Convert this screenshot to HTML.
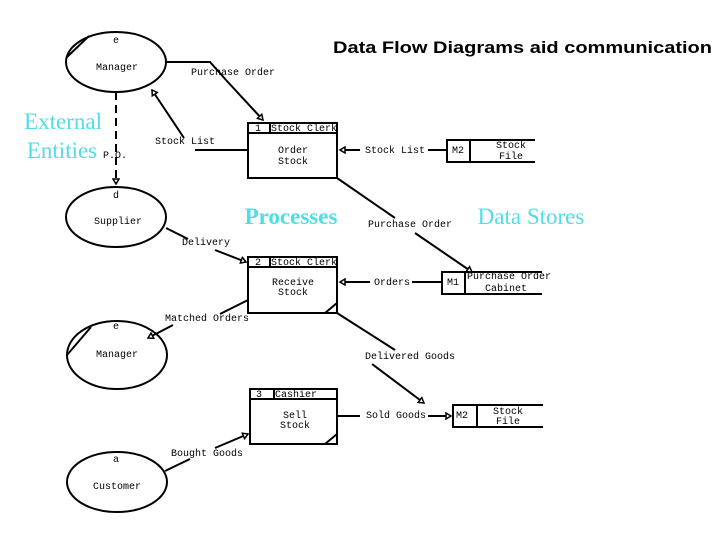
<!DOCTYPE html>
<html><head><style>
body{margin:0;background:#fff;}
svg{display:block;}
.m{font-family:"Liberation Mono",monospace;font-size:10px;fill:#000;}
.c{font-family:"Liberation Serif",serif;fill:#4fdde6;font-size:23px;}
</style></head><body>
<svg width="720" height="540" viewBox="0 0 720 540" xmlns="http://www.w3.org/2000/svg">
<defs>
<marker id="a" markerWidth="8" markerHeight="8" refX="6" refY="4" orient="auto" markerUnits="userSpaceOnUse">
<path d="M1,1 L6,4 L1,7 Z" fill="#fff" stroke="#000" stroke-width="1.5"/>
</marker>
</defs>
<g fill="none" stroke="#000" stroke-width="2">
<ellipse cx="116" cy="62" rx="50" ry="30"/>
<line x1="67" y1="57" x2="89" y2="36"/>
<ellipse cx="116" cy="217" rx="50" ry="30"/>
<ellipse cx="117" cy="355" rx="50" ry="34"/>
<line x1="67" y1="355" x2="91" y2="327"/>
<ellipse cx="117" cy="482" rx="50" ry="30"/>
<rect x="248" y="123" width="89" height="55"/><line x1="248" y1="133" x2="337" y2="133"/><line x1="270" y1="123" x2="270" y2="133"/>
<rect x="248" y="257" width="89" height="56"/><line x1="248" y1="267" x2="337" y2="267"/><line x1="270" y1="257" x2="270" y2="267"/>
<line x1="325" y1="313" x2="337" y2="303"/>
<rect x="250" y="389" width="87" height="55"/><line x1="250" y1="399" x2="337" y2="399"/><line x1="274" y1="389" x2="274" y2="399"/>
<line x1="325" y1="444" x2="337" y2="434"/>
<path d="M535,140 H447 V162 H535 M470,140 V162"/>
<path d="M542,272 H442 V294 H542 M465,272 V294"/>
<path d="M543,405 H453 V427 H543 M477,405 V427"/>
<path d="M166,62 H210 L226,80"/><line x1="226" y1="80" x2="263" y2="120" marker-end="url(#a)"/>
<line x1="248" y1="150" x2="195" y2="150"/>
<line x1="184" y1="138" x2="152" y2="90" marker-end="url(#a)"/>
<line x1="116" y1="92" x2="116" y2="184" stroke-dasharray="8,5" marker-end="url(#a)"/>
<line x1="447" y1="150" x2="428" y2="150"/><line x1="360" y1="150" x2="340" y2="150" marker-end="url(#a)"/>
<line x1="337" y1="178" x2="395" y2="218"/><line x1="415" y1="233" x2="472" y2="272" marker-end="url(#a)"/>
<line x1="166" y1="228" x2="188" y2="239"/><line x1="215" y1="250" x2="246" y2="262" marker-end="url(#a)"/>
<line x1="442" y1="282" x2="412" y2="282"/><line x1="370" y1="282" x2="340" y2="282" marker-end="url(#a)"/>
<line x1="248" y1="300" x2="220" y2="314"/>
<line x1="173" y1="325" x2="148" y2="338" marker-end="url(#a)"/>
<line x1="337" y1="313" x2="395" y2="350"/><line x1="372" y1="364" x2="424" y2="403" marker-end="url(#a)"/>
<line x1="337" y1="416" x2="360" y2="416"/><line x1="428" y1="416" x2="451" y2="416" marker-end="url(#a)"/>
<line x1="165" y1="471" x2="190" y2="459"/><line x1="215" y1="448" x2="248" y2="434" marker-end="url(#a)"/>
</g>
<text x="333" y="53" font-family="Liberation Sans,sans-serif" font-weight="bold" font-size="17" textLength="379" lengthAdjust="spacingAndGlyphs">Data Flow Diagrams aid communication</text>
<text x="63" y="129" class="c" text-anchor="middle">External</text>
<text x="62" y="158" class="c" text-anchor="middle">Entities</text>
<text x="291" y="224" class="c" text-anchor="middle" font-weight="bold" font-size="21">Processes</text>
<text x="531" y="224" class="c" text-anchor="middle">Data Stores</text>
<g class="m" text-anchor="middle">
<text x="116" y="43">e</text><text x="117" y="70">Manager</text>
<text x="116" y="198">d</text><text x="118" y="224">Supplier</text>
<text x="116" y="329">e</text><text x="117" y="357">Manager</text>
<text x="116" y="462">a</text><text x="117" y="489">Customer</text>
<text x="233" y="75">Purchase Order</text>
<text x="185" y="144">Stock List</text>
<text x="115" y="158">P.O.</text>
<text x="258" y="131">1</text><text x="304" y="131">Stock Clerk</text>
<text x="293" y="153">Order</text><text x="293" y="164">Stock</text>
<text x="395" y="153">Stock List</text>
<text x="458" y="153">M2</text><text x="511" y="148">Stock</text><text x="511" y="159">File</text>
<text x="410" y="227">Purchase Order</text>
<text x="206" y="245">Delivery</text>
<text x="258" y="265">2</text><text x="304" y="265">Stock Clerk</text>
<text x="293" y="285">Receive</text><text x="293" y="295">Stock</text>
<text x="392" y="285">Orders</text>
<text x="453" y="285">M1</text><text x="509" y="279">Purchase Order</text><text x="506" y="291">Cabinet</text>
<text x="207" y="321">Matched Orders</text>
<text x="410" y="359">Delivered Goods</text>
<text x="259" y="397">3</text><text x="296" y="397">Cashier</text>
<text x="295" y="418">Sell</text><text x="295" y="428">Stock</text>
<text x="396" y="418">Sold Goods</text>
<text x="462" y="418">M2</text><text x="508" y="414">Stock</text><text x="508" y="424">File</text>
<text x="207" y="456">Bought Goods</text>
</g>
</svg>
</body></html>
